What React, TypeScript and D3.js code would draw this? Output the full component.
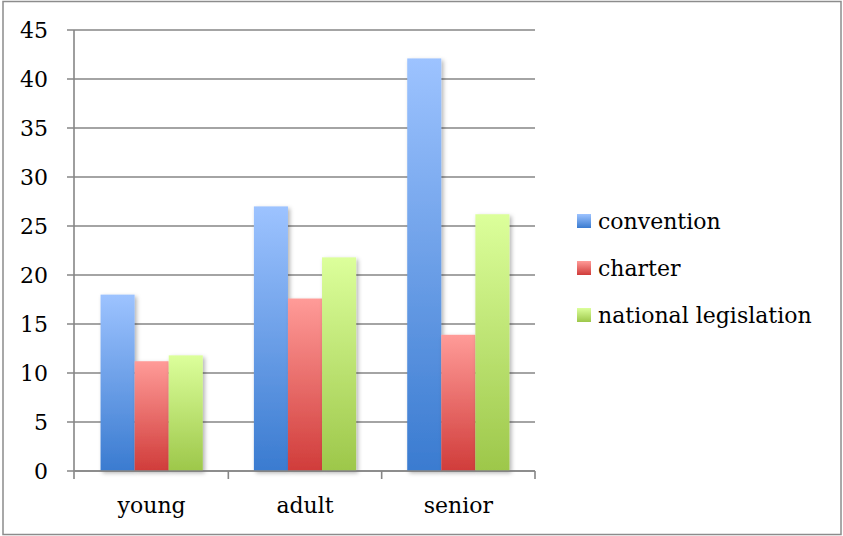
import React from "react";
import * as d3 from "d3";

const categories = ["young", "adult", "senior"];
const seriesNames = ["convention", "charter", "national legislation"];
const convention = [18, 27, 42.1];
const charter = [11.2, 17.6, 13.9];
const nationalLegislation = [11.8, 21.8, 26.2];
const yTicks = [0, 5, 10, 15, 20, 25, 30, 35, 40, 45];

const seriesValues = [convention, charter, nationalLegislation];
const gradients = [
  { id: "g-conv", top: "#9dc3ff", bottom: "#3a7bd0" },
  { id: "g-chart", top: "#ff9b98", bottom: "#d03c3a" },
  { id: "g-nat", top: "#dcff9b", bottom: "#9dc74a" },
];

const W = 843;
const H = 536;
const plot = { left: 75, right: 535, top: 30, bottom: 471 };
const FONT = "'DejaVu Serif', serif";
const GRID = "#868686";

export default function App() {
  const x = d3
    .scaleBand<string>()
    .domain(categories)
    .range([plot.left, plot.right])
    .paddingInner(0)
    .paddingOuter(0);
  const y = d3.scaleLinear().domain([0, 45]).range([plot.bottom, plot.top]);
  const band = x.bandwidth();
  const barW = band / 4.5;
  const inner = d3
    .scaleBand<number>()
    .domain([0, 1, 2])
    .range([barW * 0.75, barW * 0.75 + barW * 3]);

  const boundaries = [...categories.map((c) => x(c)!), plot.right];

  return (
    <svg
      width={W}
      height={H}
      style={{ position: "absolute", left: 0, top: 0, background: "#fff" }}
    >
      <defs>
        {gradients.map((g) => (
          <linearGradient key={g.id} id={g.id} x1="0" y1="0" x2="0" y2="1">
            <stop offset="0" stopColor={g.top} />
            <stop offset="1" stopColor={g.bottom} />
          </linearGradient>
        ))}
        <filter id="shadow" x="-30%" y="-10%" width="160%" height="130%">
          <feDropShadow dx="2" dy="2" stdDeviation="2" floodColor="#000" floodOpacity="0.3" />
        </filter>
      </defs>

      <rect x={3} y={1.5} width={838} height={533} fill="#fff" stroke="#8c8c8c" strokeWidth={1.5} />

      {yTicks.map((t) => (
        <g key={t}>
          <line x1={plot.left - 8} x2={plot.right} y1={y(t)} y2={y(t)} stroke={GRID} strokeWidth={1.6} />
          <text
            x={48}
            y={y(t) + 8}
            textAnchor="end"
            fontFamily={FONT}
            fontSize={22}
            fill="#000"
          >
            {t}
          </text>
        </g>
      ))}

      <line x1={plot.left - 1} x2={plot.left - 1} y1={plot.top} y2={plot.bottom + 8} stroke={GRID} strokeWidth={1.6} />
      {boundaries.slice(1).map((b, i) => (
        <line key={i} x1={b} x2={b} y1={plot.bottom} y2={plot.bottom + 8} stroke={GRID} strokeWidth={1.6} />
      ))}

      {categories.map((c, ci) => (
        <g key={c}>
          {seriesValues.map((vals, si) => (
            <rect
              key={si}
              x={x(c)! + inner(si)!}
              y={y(vals[ci])}
              width={barW}
              height={y(0) - y(vals[ci])}
              fill={`url(#${gradients[si].id})`}
              filter="url(#shadow)"
            />
          ))}
        </g>
      ))}

      <line x1={plot.left} x2={plot.right} y1={plot.bottom} y2={plot.bottom} stroke={GRID} strokeWidth={1.6} />

      {categories.map((c) => (
        <text
          key={c}
          x={x(c)! + band / 2}
          y={513}
          textAnchor="middle"
          fontFamily={FONT}
          fontSize={22}
          fill="#000"
        >
          {c}
        </text>
      ))}

      {seriesNames.map((name, i) => (
        <g key={name} transform={`translate(577, ${214 + i * 47})`}>
          <rect width={14} height={14} fill={`url(#${gradients[i].id})`} />
          <text x={21} y={15} fontFamily={FONT} fontSize={22} fill="#000">
            {name}
          </text>
        </g>
      ))}
    </svg>
  );
}
